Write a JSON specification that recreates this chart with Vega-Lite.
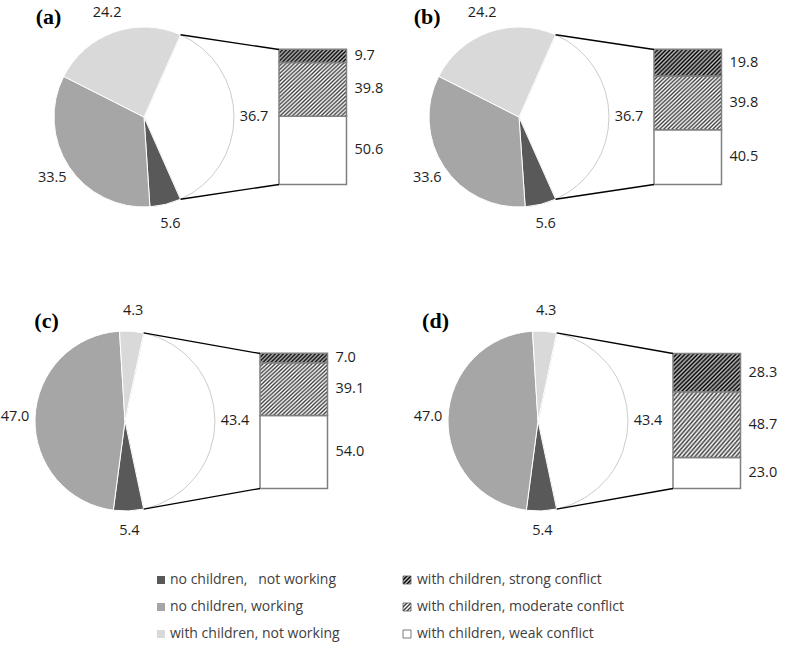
{
"$schema": "https://vega.github.io/schema/vega-lite/v6.json",
"padding": 0,
"background": "white",
"data": {"values": [
{"panel":"a","part":"pie","cat":"with children, working","value":36.7,"k":1},
{"panel":"a","part":"pie","cat":"no children,\u00a0\u00a0 not working","value":5.6,"k":2},
{"panel":"a","part":"pie","cat":"no children, working","value":33.5,"k":3},
{"panel":"a","part":"pie","cat":"with children, not working","value":24.2,"k":4},
{"panel":"a","part":"bar","cat":"with children, weak conflict","value":50.6,"k":1},
{"panel":"a","part":"bar","cat":"with children, moderate conflict","value":39.8,"k":2},
{"panel":"a","part":"bar","cat":"with children, strong conflict","value":9.7,"k":3},
{"panel":"b","part":"pie","cat":"with children, working","value":36.7,"k":1},
{"panel":"b","part":"pie","cat":"no children,\u00a0\u00a0 not working","value":5.6,"k":2},
{"panel":"b","part":"pie","cat":"no children, working","value":33.6,"k":3},
{"panel":"b","part":"pie","cat":"with children, not working","value":24.2,"k":4},
{"panel":"b","part":"bar","cat":"with children, weak conflict","value":40.5,"k":1},
{"panel":"b","part":"bar","cat":"with children, moderate conflict","value":39.8,"k":2},
{"panel":"b","part":"bar","cat":"with children, strong conflict","value":19.8,"k":3},
{"panel":"c","part":"pie","cat":"with children, working","value":43.4,"k":1},
{"panel":"c","part":"pie","cat":"no children,\u00a0\u00a0 not working","value":5.4,"k":2},
{"panel":"c","part":"pie","cat":"no children, working","value":47.0,"k":3},
{"panel":"c","part":"pie","cat":"with children, not working","value":4.3,"k":4},
{"panel":"c","part":"bar","cat":"with children, weak conflict","value":54.0,"k":1},
{"panel":"c","part":"bar","cat":"with children, moderate conflict","value":39.1,"k":2},
{"panel":"c","part":"bar","cat":"with children, strong conflict","value":7.0,"k":3},
{"panel":"d","part":"pie","cat":"with children, working","value":43.4,"k":1},
{"panel":"d","part":"pie","cat":"no children,\u00a0\u00a0 not working","value":5.4,"k":2},
{"panel":"d","part":"pie","cat":"no children, working","value":47.0,"k":3},
{"panel":"d","part":"pie","cat":"with children, not working","value":4.3,"k":4},
{"panel":"d","part":"bar","cat":"with children, weak conflict","value":23.0,"k":1},
{"panel":"d","part":"bar","cat":"with children, moderate conflict","value":48.7,"k":2},
{"panel":"d","part":"bar","cat":"with children, strong conflict","value":28.3,"k":3}
]},
"transform": [{"stack": "value", "groupby": ["panel", "part"], "sort": [{"field": "k", "order": "ascending"}], "as": ["s0", "s1"]}],
"spacing": 0,
"resolve": {"scale": {"theta": "independent"}},
"vconcat": [
{
"spacing": 53,
"resolve": {"scale": {"theta": "independent"}},
"vconcat": [
{
"spacing": 0,
"resolve": {"scale": {"theta": "independent"}},
"hconcat": [
{
"width": 394, "height": 250,
"transform": [{"filter": "datum.panel === 'a'"}],
"layer": [
{"transform": [{"filter": "datum.part === 'pie'"}],
 "mark": {"type": "arc", "outerRadius": 90, "strokeWidth": 1},
 "encoding": {
  "x": {"datum": 0, "type": "quantitative", "scale": {"domain": [-105.93, 185.93], "nice": false, "zero": false}},
  "y": {"datum": 50, "type": "quantitative", "scale": {"domain": [-48.52, 136.67], "nice": false, "zero": false}},
  "theta": {"field": "value", "type": "quantitative", "stack": true, "scale": {"range": [0.418, 6.7012], "nice": false, "zero": true}},
  "order": {"field": "k", "type": "quantitative"},
  "color": {"field": "cat", "type": "nominal", "legend": null, "scale": {"domain": ["with children, working", "no children,\u00a0\u00a0 not working", "no children, working", "with children, not working"], "range": ["#ffffff", "#595959", "#a6a6a6", "#d9d9d9"]}},
  "stroke": {"condition": {"test": "datum.k === 1", "value": "#cccccc"}, "value": "#ffffff"}
 }},
{"transform": [{"filter": "datum.part === 'pie'"}],
 "mark": {"type": "text", "radius": 110, "font": "Open Sans", "fontSize": 14.5, "fill": "#1e1e1e"},
 "encoding": {
  "x": {"datum": 0, "type": "quantitative"},
  "y": {"datum": 50, "type": "quantitative"},
  "theta": {"field": "value", "type": "quantitative", "stack": true, "scale": {"range": [0.418, 6.7012], "nice": false, "zero": true}},
  "order": {"field": "k", "type": "quantitative"},
  "text": {"field": "value", "type": "quantitative", "format": ".1f"}
 }},
{"transform": [{"filter": "datum.part === 'bar' && datum.k === 1"}],
 "mark": {"type": "rect", "fill": "#ffffff", "stroke": "#808080", "strokeWidth": 1.5},
 "encoding": {"x": {"datum": 100, "type": "quantitative"}, "x2": {"datum": 150}, "y": {"field": "s0", "type": "quantitative"}, "y2": {"field": "s1"}}},
{"transform": [{"filter": "datum.part === 'bar' && datum.k === 2"}],
 "mark": {"type": "rect", "stroke": "#808080", "strokeWidth": 1.5, "fill": {"gradient": "linear", "x1": 0, "y1": 0, "x2": 1.0802, "y2": 0.9042, "stops": [
{"offset":0,"color":"#404040"},{"offset":0.0165,"color":"#fff"},{"offset":0.033,"color":"#404040"},{"offset":0.0495,"color":"#fff"},{"offset":0.066,"color":"#404040"},{"offset":0.0825,"color":"#fff"},{"offset":0.099,"color":"#404040"},{"offset":0.1155,"color":"#fff"},{"offset":0.132,"color":"#404040"},{"offset":0.1485,"color":"#fff"},{"offset":0.165,"color":"#404040"},{"offset":0.1815,"color":"#fff"},{"offset":0.198,"color":"#404040"},{"offset":0.2145,"color":"#fff"},{"offset":0.231,"color":"#404040"},{"offset":0.2475,"color":"#fff"},{"offset":0.264,"color":"#404040"},{"offset":0.2805,"color":"#fff"},{"offset":0.297,"color":"#404040"},{"offset":0.3135,"color":"#fff"},{"offset":0.33,"color":"#404040"},{"offset":0.3465,"color":"#fff"},{"offset":0.363,"color":"#404040"},{"offset":0.3795,"color":"#fff"},{"offset":0.396,"color":"#404040"},{"offset":0.4125,"color":"#fff"},{"offset":0.429,"color":"#404040"},{"offset":0.4455,"color":"#fff"},{"offset":0.462,"color":"#404040"},{"offset":0.4785,"color":"#fff"},{"offset":0.495,"color":"#404040"},{"offset":0.5115,"color":"#fff"},{"offset":0.528,"color":"#404040"},{"offset":0.5445,"color":"#fff"},{"offset":0.561,"color":"#404040"},{"offset":0.5775,"color":"#fff"},{"offset":0.594,"color":"#404040"},{"offset":0.6105,"color":"#fff"},{"offset":0.627,"color":"#404040"},{"offset":0.6435,"color":"#fff"},{"offset":0.66,"color":"#404040"},{"offset":0.6765,"color":"#fff"},{"offset":0.693,"color":"#404040"},{"offset":0.7095,"color":"#fff"},{"offset":0.726,"color":"#404040"},{"offset":0.7425,"color":"#fff"},{"offset":0.759,"color":"#404040"},{"offset":0.7755,"color":"#fff"},{"offset":0.792,"color":"#404040"},{"offset":0.8085,"color":"#fff"},{"offset":0.825,"color":"#404040"},{"offset":0.8415,"color":"#fff"},{"offset":0.858,"color":"#404040"},{"offset":0.8745,"color":"#fff"},{"offset":0.891,"color":"#404040"},{"offset":0.9075,"color":"#fff"},{"offset":0.924,"color":"#404040"},{"offset":0.9405,"color":"#fff"},{"offset":0.957,"color":"#404040"},{"offset":0.9735,"color":"#fff"},{"offset":0.99,"color":"#404040"}]}},
 "encoding": {"x": {"datum": 100, "type": "quantitative"}, "x2": {"datum": 150}, "y": {"field": "s0", "type": "quantitative"}, "y2": {"field": "s1"}}},
{"transform": [{"filter": "datum.part === 'bar' && datum.k === 3"}],
 "mark": {"type": "rect", "stroke": "#808080", "strokeWidth": 1.5, "fill": {"gradient": "linear", "x1": 0, "y1": 0, "x2": 1.1507, "y2": 0.2233, "stops": [
{"offset":0,"color":"#000"},{"offset":0.025,"color":"#c0c0c0"},{"offset":0.05,"color":"#000"},{"offset":0.075,"color":"#c0c0c0"},{"offset":0.1,"color":"#000"},{"offset":0.125,"color":"#c0c0c0"},{"offset":0.15,"color":"#000"},{"offset":0.175,"color":"#c0c0c0"},{"offset":0.2,"color":"#000"},{"offset":0.225,"color":"#c0c0c0"},{"offset":0.25,"color":"#000"},{"offset":0.275,"color":"#c0c0c0"},{"offset":0.3,"color":"#000"},{"offset":0.325,"color":"#c0c0c0"},{"offset":0.35,"color":"#000"},{"offset":0.375,"color":"#c0c0c0"},{"offset":0.4,"color":"#000"},{"offset":0.425,"color":"#c0c0c0"},{"offset":0.45,"color":"#000"},{"offset":0.475,"color":"#c0c0c0"},{"offset":0.5,"color":"#000"},{"offset":0.525,"color":"#c0c0c0"},{"offset":0.55,"color":"#000"},{"offset":0.575,"color":"#c0c0c0"},{"offset":0.6,"color":"#000"},{"offset":0.625,"color":"#c0c0c0"},{"offset":0.65,"color":"#000"},{"offset":0.675,"color":"#c0c0c0"},{"offset":0.7,"color":"#000"},{"offset":0.725,"color":"#c0c0c0"},{"offset":0.75,"color":"#000"},{"offset":0.775,"color":"#c0c0c0"},{"offset":0.8,"color":"#000"},{"offset":0.825,"color":"#c0c0c0"},{"offset":0.85,"color":"#000"},{"offset":0.875,"color":"#c0c0c0"},{"offset":0.9,"color":"#000"},{"offset":0.925,"color":"#c0c0c0"},{"offset":0.95,"color":"#000"},{"offset":0.975,"color":"#c0c0c0"},{"offset":1,"color":"#000"}]}},
 "encoding": {"x": {"datum": 100, "type": "quantitative"}, "x2": {"datum": 150}, "y": {"field": "s0", "type": "quantitative"}, "y2": {"field": "s1"}}},
{"transform": [{"filter": "datum.part === 'bar'"}, {"fold": ["s0", "s1"], "as": ["edge", "pos"]}, {"aggregate": [{"op": "mean", "field": "pos", "as": "mid"}, {"op": "max", "field": "value", "as": "v"}], "groupby": ["cat"]}],
 "mark": {"type": "text", "align": "left", "dx": 8, "font": "Open Sans", "fontSize": 14.5, "fill": "#1e1e1e"},
 "encoding": {"x": {"datum": 150, "type": "quantitative"}, "y": {"field": "mid", "type": "quantitative"}, "text": {"field": "v", "type": "quantitative", "format": ".1f"}}},
{"data": {"values": [{}]}, "mark": {"type": "rule", "color": "#000000", "strokeWidth": 1.3},
 "encoding": {"x": {"datum": 27.05, "type": "quantitative"}, "y": {"datum": 110.93, "type": "quantitative"}, "x2": {"datum": 100}, "y2": {"datum": 100}}},
{"data": {"values": [{}]}, "mark": {"type": "rule", "color": "#000000", "strokeWidth": 1.3},
 "encoding": {"x": {"datum": 27.05, "type": "quantitative"}, "y": {"datum": -10.93, "type": "quantitative"}, "x2": {"datum": 100}, "y2": {"datum": 0}}},
{"data": {"values": [{}]}, "mark": {"type": "text", "font": "Liberation Serif", "fontWeight": "bold", "fontSize": 22, "fill": "#000000"},
 "encoding": {"x": {"datum": -70.7, "type": "quantitative"}, "y": {"datum": 124.1, "type": "quantitative"}, "text": {"value": "(a)"}}}
]
},
{
"width": 394, "height": 250,
"transform": [{"filter": "datum.panel === 'b'"}],
"layer": [
{"transform": [{"filter": "datum.part === 'pie'"}],
 "mark": {"type": "arc", "outerRadius": 90, "strokeWidth": 1},
 "encoding": {
  "x": {"datum": 0, "type": "quantitative", "scale": {"domain": [-91.85, 200], "nice": false, "zero": false}},
  "y": {"datum": 50, "type": "quantitative", "scale": {"domain": [-48.52, 136.67], "nice": false, "zero": false}},
  "theta": {"field": "value", "type": "quantitative", "stack": true, "scale": {"range": [0.418, 6.7012], "nice": false, "zero": true}},
  "order": {"field": "k", "type": "quantitative"},
  "color": {"field": "cat", "type": "nominal", "legend": null, "scale": {"domain": ["with children, working", "no children,\u00a0\u00a0 not working", "no children, working", "with children, not working"], "range": ["#ffffff", "#595959", "#a6a6a6", "#d9d9d9"]}},
  "stroke": {"condition": {"test": "datum.k === 1", "value": "#cccccc"}, "value": "#ffffff"}
 }},
{"transform": [{"filter": "datum.part === 'pie'"}],
 "mark": {"type": "text", "radius": 110, "font": "Open Sans", "fontSize": 14.5, "fill": "#1e1e1e"},
 "encoding": {
  "x": {"datum": 0, "type": "quantitative"},
  "y": {"datum": 50, "type": "quantitative"},
  "theta": {"field": "value", "type": "quantitative", "stack": true, "scale": {"range": [0.418, 6.7012], "nice": false, "zero": true}},
  "order": {"field": "k", "type": "quantitative"},
  "text": {"field": "value", "type": "quantitative", "format": ".1f"}
 }},
{"transform": [{"filter": "datum.part === 'bar' && datum.k === 1"}],
 "mark": {"type": "rect", "fill": "#ffffff", "stroke": "#808080", "strokeWidth": 1.5},
 "encoding": {"x": {"datum": 100, "type": "quantitative"}, "x2": {"datum": 150}, "y": {"field": "s0", "type": "quantitative"}, "y2": {"field": "s1"}}},
{"transform": [{"filter": "datum.part === 'bar' && datum.k === 2"}],
 "mark": {"type": "rect", "stroke": "#808080", "strokeWidth": 1.5, "fill": {"gradient": "linear", "x1": 0, "y1": 0, "x2": 1.0802, "y2": 0.9042, "stops": [
{"offset":0,"color":"#404040"},{"offset":0.0165,"color":"#fff"},{"offset":0.033,"color":"#404040"},{"offset":0.0495,"color":"#fff"},{"offset":0.066,"color":"#404040"},{"offset":0.0825,"color":"#fff"},{"offset":0.099,"color":"#404040"},{"offset":0.1155,"color":"#fff"},{"offset":0.132,"color":"#404040"},{"offset":0.1485,"color":"#fff"},{"offset":0.165,"color":"#404040"},{"offset":0.1815,"color":"#fff"},{"offset":0.198,"color":"#404040"},{"offset":0.2145,"color":"#fff"},{"offset":0.231,"color":"#404040"},{"offset":0.2475,"color":"#fff"},{"offset":0.264,"color":"#404040"},{"offset":0.2805,"color":"#fff"},{"offset":0.297,"color":"#404040"},{"offset":0.3135,"color":"#fff"},{"offset":0.33,"color":"#404040"},{"offset":0.3465,"color":"#fff"},{"offset":0.363,"color":"#404040"},{"offset":0.3795,"color":"#fff"},{"offset":0.396,"color":"#404040"},{"offset":0.4125,"color":"#fff"},{"offset":0.429,"color":"#404040"},{"offset":0.4455,"color":"#fff"},{"offset":0.462,"color":"#404040"},{"offset":0.4785,"color":"#fff"},{"offset":0.495,"color":"#404040"},{"offset":0.5115,"color":"#fff"},{"offset":0.528,"color":"#404040"},{"offset":0.5445,"color":"#fff"},{"offset":0.561,"color":"#404040"},{"offset":0.5775,"color":"#fff"},{"offset":0.594,"color":"#404040"},{"offset":0.6105,"color":"#fff"},{"offset":0.627,"color":"#404040"},{"offset":0.6435,"color":"#fff"},{"offset":0.66,"color":"#404040"},{"offset":0.6765,"color":"#fff"},{"offset":0.693,"color":"#404040"},{"offset":0.7095,"color":"#fff"},{"offset":0.726,"color":"#404040"},{"offset":0.7425,"color":"#fff"},{"offset":0.759,"color":"#404040"},{"offset":0.7755,"color":"#fff"},{"offset":0.792,"color":"#404040"},{"offset":0.8085,"color":"#fff"},{"offset":0.825,"color":"#404040"},{"offset":0.8415,"color":"#fff"},{"offset":0.858,"color":"#404040"},{"offset":0.8745,"color":"#fff"},{"offset":0.891,"color":"#404040"},{"offset":0.9075,"color":"#fff"},{"offset":0.924,"color":"#404040"},{"offset":0.9405,"color":"#fff"},{"offset":0.957,"color":"#404040"},{"offset":0.9735,"color":"#fff"},{"offset":0.99,"color":"#404040"}]}},
 "encoding": {"x": {"datum": 100, "type": "quantitative"}, "x2": {"datum": 150}, "y": {"field": "s0", "type": "quantitative"}, "y2": {"field": "s1"}}},
{"transform": [{"filter": "datum.part === 'bar' && datum.k === 3"}],
 "mark": {"type": "rect", "stroke": "#808080", "strokeWidth": 1.5, "fill": {"gradient": "linear", "x1": 0, "y1": 0, "x2": 1.2068, "y2": 0.4773, "stops": [
{"offset":0,"color":"#000"},{"offset":0.022,"color":"#c0c0c0"},{"offset":0.044,"color":"#000"},{"offset":0.066,"color":"#c0c0c0"},{"offset":0.088,"color":"#000"},{"offset":0.11,"color":"#c0c0c0"},{"offset":0.132,"color":"#000"},{"offset":0.154,"color":"#c0c0c0"},{"offset":0.176,"color":"#000"},{"offset":0.198,"color":"#c0c0c0"},{"offset":0.22,"color":"#000"},{"offset":0.242,"color":"#c0c0c0"},{"offset":0.264,"color":"#000"},{"offset":0.286,"color":"#c0c0c0"},{"offset":0.308,"color":"#000"},{"offset":0.33,"color":"#c0c0c0"},{"offset":0.352,"color":"#000"},{"offset":0.374,"color":"#c0c0c0"},{"offset":0.396,"color":"#000"},{"offset":0.418,"color":"#c0c0c0"},{"offset":0.44,"color":"#000"},{"offset":0.462,"color":"#c0c0c0"},{"offset":0.484,"color":"#000"},{"offset":0.506,"color":"#c0c0c0"},{"offset":0.528,"color":"#000"},{"offset":0.55,"color":"#c0c0c0"},{"offset":0.572,"color":"#000"},{"offset":0.594,"color":"#c0c0c0"},{"offset":0.616,"color":"#000"},{"offset":0.638,"color":"#c0c0c0"},{"offset":0.66,"color":"#000"},{"offset":0.682,"color":"#c0c0c0"},{"offset":0.704,"color":"#000"},{"offset":0.726,"color":"#c0c0c0"},{"offset":0.748,"color":"#000"},{"offset":0.77,"color":"#c0c0c0"},{"offset":0.792,"color":"#000"},{"offset":0.814,"color":"#c0c0c0"},{"offset":0.836,"color":"#000"},{"offset":0.858,"color":"#c0c0c0"},{"offset":0.88,"color":"#000"},{"offset":0.902,"color":"#c0c0c0"},{"offset":0.924,"color":"#000"},{"offset":0.946,"color":"#c0c0c0"},{"offset":0.968,"color":"#000"},{"offset":0.99,"color":"#c0c0c0"}]}},
 "encoding": {"x": {"datum": 100, "type": "quantitative"}, "x2": {"datum": 150}, "y": {"field": "s0", "type": "quantitative"}, "y2": {"field": "s1"}}},
{"transform": [{"filter": "datum.part === 'bar'"}, {"fold": ["s0", "s1"], "as": ["edge", "pos"]}, {"aggregate": [{"op": "mean", "field": "pos", "as": "mid"}, {"op": "max", "field": "value", "as": "v"}], "groupby": ["cat"]}],
 "mark": {"type": "text", "align": "left", "dx": 8, "font": "Open Sans", "fontSize": 14.5, "fill": "#1e1e1e"},
 "encoding": {"x": {"datum": 150, "type": "quantitative"}, "y": {"field": "mid", "type": "quantitative"}, "text": {"field": "v", "type": "quantitative", "format": ".1f"}}},
{"data": {"values": [{}]}, "mark": {"type": "rule", "color": "#000000", "strokeWidth": 1.3},
 "encoding": {"x": {"datum": 27.05, "type": "quantitative"}, "y": {"datum": 110.93, "type": "quantitative"}, "x2": {"datum": 100}, "y2": {"datum": 100}}},
{"data": {"values": [{}]}, "mark": {"type": "rule", "color": "#000000", "strokeWidth": 1.3},
 "encoding": {"x": {"datum": 27.05, "type": "quantitative"}, "y": {"datum": -10.93, "type": "quantitative"}, "x2": {"datum": 100}, "y2": {"datum": 0}}},
{"data": {"values": [{}]}, "mark": {"type": "text", "font": "Liberation Serif", "fontWeight": "bold", "fontSize": 22, "fill": "#000000"},
 "encoding": {"x": {"datum": -68.1, "type": "quantitative"}, "y": {"datum": 124.1, "type": "quantitative"}, "text": {"value": "(b)"}}}
]
}
]
},
{
"spacing": 0,
"resolve": {"scale": {"theta": "independent"}},
"hconcat": [
{
"width": 394, "height": 250,
"transform": [{"filter": "datum.panel === 'c'"}],
"layer": [
{"transform": [{"filter": "datum.part === 'pie'"}],
 "mark": {"type": "arc", "outerRadius": 90, "strokeWidth": 1},
 "encoding": {
  "x": {"datum": 0, "type": "quantitative", "scale": {"domain": [-91.85, 200], "nice": false, "zero": false}},
  "y": {"datum": 50, "type": "quantitative", "scale": {"domain": [-48.52, 136.67], "nice": false, "zero": false}},
  "theta": {"field": "value", "type": "quantitative", "stack": true, "scale": {"range": [0.2087, 6.4919], "nice": false, "zero": true}},
  "order": {"field": "k", "type": "quantitative"},
  "color": {"field": "cat", "type": "nominal", "legend": null, "scale": {"domain": ["with children, working", "no children,\u00a0\u00a0 not working", "no children, working", "with children, not working"], "range": ["#ffffff", "#595959", "#a6a6a6", "#d9d9d9"]}},
  "stroke": {"condition": {"test": "datum.k === 1", "value": "#cccccc"}, "value": "#ffffff"}
 }},
{"transform": [{"filter": "datum.part === 'pie'"}],
 "mark": {"type": "text", "radius": 110, "font": "Open Sans", "fontSize": 14.5, "fill": "#1e1e1e"},
 "encoding": {
  "x": {"datum": 0, "type": "quantitative"},
  "y": {"datum": 50, "type": "quantitative"},
  "theta": {"field": "value", "type": "quantitative", "stack": true, "scale": {"range": [0.2087, 6.4919], "nice": false, "zero": true}},
  "order": {"field": "k", "type": "quantitative"},
  "text": {"field": "value", "type": "quantitative", "format": ".1f"}
 }},
{"transform": [{"filter": "datum.part === 'bar' && datum.k === 1"}],
 "mark": {"type": "rect", "fill": "#ffffff", "stroke": "#808080", "strokeWidth": 1.5},
 "encoding": {"x": {"datum": 100, "type": "quantitative"}, "x2": {"datum": 150}, "y": {"field": "s0", "type": "quantitative"}, "y2": {"field": "s1"}}},
{"transform": [{"filter": "datum.part === 'bar' && datum.k === 2"}],
 "mark": {"type": "rect", "stroke": "#808080", "strokeWidth": 1.5, "fill": {"gradient": "linear", "x1": 0, "y1": 0, "x2": 1.0802, "y2": 0.9042, "stops": [
{"offset":0,"color":"#404040"},{"offset":0.0165,"color":"#fff"},{"offset":0.033,"color":"#404040"},{"offset":0.0495,"color":"#fff"},{"offset":0.066,"color":"#404040"},{"offset":0.0825,"color":"#fff"},{"offset":0.099,"color":"#404040"},{"offset":0.1155,"color":"#fff"},{"offset":0.132,"color":"#404040"},{"offset":0.1485,"color":"#fff"},{"offset":0.165,"color":"#404040"},{"offset":0.1815,"color":"#fff"},{"offset":0.198,"color":"#404040"},{"offset":0.2145,"color":"#fff"},{"offset":0.231,"color":"#404040"},{"offset":0.2475,"color":"#fff"},{"offset":0.264,"color":"#404040"},{"offset":0.2805,"color":"#fff"},{"offset":0.297,"color":"#404040"},{"offset":0.3135,"color":"#fff"},{"offset":0.33,"color":"#404040"},{"offset":0.3465,"color":"#fff"},{"offset":0.363,"color":"#404040"},{"offset":0.3795,"color":"#fff"},{"offset":0.396,"color":"#404040"},{"offset":0.4125,"color":"#fff"},{"offset":0.429,"color":"#404040"},{"offset":0.4455,"color":"#fff"},{"offset":0.462,"color":"#404040"},{"offset":0.4785,"color":"#fff"},{"offset":0.495,"color":"#404040"},{"offset":0.5115,"color":"#fff"},{"offset":0.528,"color":"#404040"},{"offset":0.5445,"color":"#fff"},{"offset":0.561,"color":"#404040"},{"offset":0.5775,"color":"#fff"},{"offset":0.594,"color":"#404040"},{"offset":0.6105,"color":"#fff"},{"offset":0.627,"color":"#404040"},{"offset":0.6435,"color":"#fff"},{"offset":0.66,"color":"#404040"},{"offset":0.6765,"color":"#fff"},{"offset":0.693,"color":"#404040"},{"offset":0.7095,"color":"#fff"},{"offset":0.726,"color":"#404040"},{"offset":0.7425,"color":"#fff"},{"offset":0.759,"color":"#404040"},{"offset":0.7755,"color":"#fff"},{"offset":0.792,"color":"#404040"},{"offset":0.8085,"color":"#fff"},{"offset":0.825,"color":"#404040"},{"offset":0.8415,"color":"#fff"},{"offset":0.858,"color":"#404040"},{"offset":0.8745,"color":"#fff"},{"offset":0.891,"color":"#404040"},{"offset":0.9075,"color":"#fff"},{"offset":0.924,"color":"#404040"},{"offset":0.9405,"color":"#fff"},{"offset":0.957,"color":"#404040"},{"offset":0.9735,"color":"#fff"},{"offset":0.99,"color":"#404040"}]}},
 "encoding": {"x": {"datum": 100, "type": "quantitative"}, "x2": {"datum": 150}, "y": {"field": "s0", "type": "quantitative"}, "y2": {"field": "s1"}}},
{"transform": [{"filter": "datum.part === 'bar' && datum.k === 3"}],
 "mark": {"type": "rect", "stroke": "#808080", "strokeWidth": 1.5, "fill": {"gradient": "linear", "x1": 0, "y1": 0, "x2": 1.1181, "y2": 0.1565, "stops": [
{"offset":0,"color":"#000"},{"offset":0.026,"color":"#c0c0c0"},{"offset":0.052,"color":"#000"},{"offset":0.078,"color":"#c0c0c0"},{"offset":0.104,"color":"#000"},{"offset":0.13,"color":"#c0c0c0"},{"offset":0.156,"color":"#000"},{"offset":0.182,"color":"#c0c0c0"},{"offset":0.208,"color":"#000"},{"offset":0.234,"color":"#c0c0c0"},{"offset":0.26,"color":"#000"},{"offset":0.286,"color":"#c0c0c0"},{"offset":0.312,"color":"#000"},{"offset":0.338,"color":"#c0c0c0"},{"offset":0.364,"color":"#000"},{"offset":0.39,"color":"#c0c0c0"},{"offset":0.416,"color":"#000"},{"offset":0.442,"color":"#c0c0c0"},{"offset":0.468,"color":"#000"},{"offset":0.494,"color":"#c0c0c0"},{"offset":0.52,"color":"#000"},{"offset":0.546,"color":"#c0c0c0"},{"offset":0.572,"color":"#000"},{"offset":0.598,"color":"#c0c0c0"},{"offset":0.624,"color":"#000"},{"offset":0.65,"color":"#c0c0c0"},{"offset":0.676,"color":"#000"},{"offset":0.702,"color":"#c0c0c0"},{"offset":0.728,"color":"#000"},{"offset":0.754,"color":"#c0c0c0"},{"offset":0.78,"color":"#000"},{"offset":0.806,"color":"#c0c0c0"},{"offset":0.832,"color":"#000"},{"offset":0.858,"color":"#c0c0c0"},{"offset":0.884,"color":"#000"},{"offset":0.91,"color":"#c0c0c0"},{"offset":0.936,"color":"#000"},{"offset":0.962,"color":"#c0c0c0"},{"offset":0.988,"color":"#000"}]}},
 "encoding": {"x": {"datum": 100, "type": "quantitative"}, "x2": {"datum": 150}, "y": {"field": "s0", "type": "quantitative"}, "y2": {"field": "s1"}}},
{"transform": [{"filter": "datum.part === 'bar'"}, {"fold": ["s0", "s1"], "as": ["edge", "pos"]}, {"aggregate": [{"op": "mean", "field": "pos", "as": "mid"}, {"op": "max", "field": "value", "as": "v"}], "groupby": ["cat"]}],
 "mark": {"type": "text", "align": "left", "dx": 8, "font": "Open Sans", "fontSize": 14.5, "fill": "#1e1e1e"},
 "encoding": {"x": {"datum": 150, "type": "quantitative"}, "y": {"field": "mid", "type": "quantitative"}, "text": {"field": "v", "type": "quantitative", "format": ".1f"}}},
{"data": {"values": [{}]}, "mark": {"type": "rule", "color": "#000000", "strokeWidth": 1.3},
 "encoding": {"x": {"datum": 13.81, "type": "quantitative"}, "y": {"datum": 115.22, "type": "quantitative"}, "x2": {"datum": 100}, "y2": {"datum": 100}}},
{"data": {"values": [{}]}, "mark": {"type": "rule", "color": "#000000", "strokeWidth": 1.3},
 "encoding": {"x": {"datum": 13.81, "type": "quantitative"}, "y": {"datum": -15.22, "type": "quantitative"}, "x2": {"datum": 100}, "y2": {"datum": 0}}},
{"data": {"values": [{}]}, "mark": {"type": "text", "font": "Liberation Serif", "fontWeight": "bold", "fontSize": 22, "fill": "#000000"},
 "encoding": {"x": {"datum": -58.1, "type": "quantitative"}, "y": {"datum": 124.1, "type": "quantitative"}, "text": {"value": "(c)"}}}
]
},
{
"width": 394, "height": 250,
"transform": [{"filter": "datum.panel === 'd'"}],
"layer": [
{"transform": [{"filter": "datum.part === 'pie'"}],
 "mark": {"type": "arc", "outerRadius": 90, "strokeWidth": 1},
 "encoding": {
  "x": {"datum": 0, "type": "quantitative", "scale": {"domain": [-105.93, 185.93], "nice": false, "zero": false}},
  "y": {"datum": 50, "type": "quantitative", "scale": {"domain": [-48.52, 136.67], "nice": false, "zero": false}},
  "theta": {"field": "value", "type": "quantitative", "stack": true, "scale": {"range": [0.2087, 6.4919], "nice": false, "zero": true}},
  "order": {"field": "k", "type": "quantitative"},
  "color": {"field": "cat", "type": "nominal", "legend": null, "scale": {"domain": ["with children, working", "no children,\u00a0\u00a0 not working", "no children, working", "with children, not working"], "range": ["#ffffff", "#595959", "#a6a6a6", "#d9d9d9"]}},
  "stroke": {"condition": {"test": "datum.k === 1", "value": "#cccccc"}, "value": "#ffffff"}
 }},
{"transform": [{"filter": "datum.part === 'pie'"}],
 "mark": {"type": "text", "radius": 110, "font": "Open Sans", "fontSize": 14.5, "fill": "#1e1e1e"},
 "encoding": {
  "x": {"datum": 0, "type": "quantitative"},
  "y": {"datum": 50, "type": "quantitative"},
  "theta": {"field": "value", "type": "quantitative", "stack": true, "scale": {"range": [0.2087, 6.4919], "nice": false, "zero": true}},
  "order": {"field": "k", "type": "quantitative"},
  "text": {"field": "value", "type": "quantitative", "format": ".1f"}
 }},
{"transform": [{"filter": "datum.part === 'bar' && datum.k === 1"}],
 "mark": {"type": "rect", "fill": "#ffffff", "stroke": "#808080", "strokeWidth": 1.5},
 "encoding": {"x": {"datum": 100, "type": "quantitative"}, "x2": {"datum": 150}, "y": {"field": "s0", "type": "quantitative"}, "y2": {"field": "s1"}}},
{"transform": [{"filter": "datum.part === 'bar' && datum.k === 2"}],
 "mark": {"type": "rect", "stroke": "#808080", "strokeWidth": 1.5, "fill": {"gradient": "linear", "x1": 0, "y1": 0, "x2": 1.0802, "y2": 0.9042, "stops": [
{"offset":0,"color":"#404040"},{"offset":0.0165,"color":"#fff"},{"offset":0.033,"color":"#404040"},{"offset":0.0495,"color":"#fff"},{"offset":0.066,"color":"#404040"},{"offset":0.0825,"color":"#fff"},{"offset":0.099,"color":"#404040"},{"offset":0.1155,"color":"#fff"},{"offset":0.132,"color":"#404040"},{"offset":0.1485,"color":"#fff"},{"offset":0.165,"color":"#404040"},{"offset":0.1815,"color":"#fff"},{"offset":0.198,"color":"#404040"},{"offset":0.2145,"color":"#fff"},{"offset":0.231,"color":"#404040"},{"offset":0.2475,"color":"#fff"},{"offset":0.264,"color":"#404040"},{"offset":0.2805,"color":"#fff"},{"offset":0.297,"color":"#404040"},{"offset":0.3135,"color":"#fff"},{"offset":0.33,"color":"#404040"},{"offset":0.3465,"color":"#fff"},{"offset":0.363,"color":"#404040"},{"offset":0.3795,"color":"#fff"},{"offset":0.396,"color":"#404040"},{"offset":0.4125,"color":"#fff"},{"offset":0.429,"color":"#404040"},{"offset":0.4455,"color":"#fff"},{"offset":0.462,"color":"#404040"},{"offset":0.4785,"color":"#fff"},{"offset":0.495,"color":"#404040"},{"offset":0.5115,"color":"#fff"},{"offset":0.528,"color":"#404040"},{"offset":0.5445,"color":"#fff"},{"offset":0.561,"color":"#404040"},{"offset":0.5775,"color":"#fff"},{"offset":0.594,"color":"#404040"},{"offset":0.6105,"color":"#fff"},{"offset":0.627,"color":"#404040"},{"offset":0.6435,"color":"#fff"},{"offset":0.66,"color":"#404040"},{"offset":0.6765,"color":"#fff"},{"offset":0.693,"color":"#404040"},{"offset":0.7095,"color":"#fff"},{"offset":0.726,"color":"#404040"},{"offset":0.7425,"color":"#fff"},{"offset":0.759,"color":"#404040"},{"offset":0.7755,"color":"#fff"},{"offset":0.792,"color":"#404040"},{"offset":0.8085,"color":"#fff"},{"offset":0.825,"color":"#404040"},{"offset":0.8415,"color":"#fff"},{"offset":0.858,"color":"#404040"},{"offset":0.8745,"color":"#fff"},{"offset":0.891,"color":"#404040"},{"offset":0.9075,"color":"#fff"},{"offset":0.924,"color":"#404040"},{"offset":0.9405,"color":"#fff"},{"offset":0.957,"color":"#404040"},{"offset":0.9735,"color":"#fff"},{"offset":0.99,"color":"#404040"}]}},
 "encoding": {"x": {"datum": 100, "type": "quantitative"}, "x2": {"datum": 150}, "y": {"field": "s0", "type": "quantitative"}, "y2": {"field": "s1"}}},
{"transform": [{"filter": "datum.part === 'bar' && datum.k === 3"}],
 "mark": {"type": "rect", "stroke": "#808080", "strokeWidth": 1.5, "fill": {"gradient": "linear", "x1": 0, "y1": 0, "x2": 1.1861, "y2": 0.6712, "stops": [
{"offset":0,"color":"#000"},{"offset":0.02,"color":"#c0c0c0"},{"offset":0.04,"color":"#000"},{"offset":0.06,"color":"#c0c0c0"},{"offset":0.08,"color":"#000"},{"offset":0.1,"color":"#c0c0c0"},{"offset":0.12,"color":"#000"},{"offset":0.14,"color":"#c0c0c0"},{"offset":0.16,"color":"#000"},{"offset":0.18,"color":"#c0c0c0"},{"offset":0.2,"color":"#000"},{"offset":0.22,"color":"#c0c0c0"},{"offset":0.24,"color":"#000"},{"offset":0.26,"color":"#c0c0c0"},{"offset":0.28,"color":"#000"},{"offset":0.3,"color":"#c0c0c0"},{"offset":0.32,"color":"#000"},{"offset":0.34,"color":"#c0c0c0"},{"offset":0.36,"color":"#000"},{"offset":0.38,"color":"#c0c0c0"},{"offset":0.4,"color":"#000"},{"offset":0.42,"color":"#c0c0c0"},{"offset":0.44,"color":"#000"},{"offset":0.46,"color":"#c0c0c0"},{"offset":0.48,"color":"#000"},{"offset":0.5,"color":"#c0c0c0"},{"offset":0.52,"color":"#000"},{"offset":0.54,"color":"#c0c0c0"},{"offset":0.56,"color":"#000"},{"offset":0.58,"color":"#c0c0c0"},{"offset":0.6,"color":"#000"},{"offset":0.62,"color":"#c0c0c0"},{"offset":0.64,"color":"#000"},{"offset":0.66,"color":"#c0c0c0"},{"offset":0.68,"color":"#000"},{"offset":0.7,"color":"#c0c0c0"},{"offset":0.72,"color":"#000"},{"offset":0.74,"color":"#c0c0c0"},{"offset":0.76,"color":"#000"},{"offset":0.78,"color":"#c0c0c0"},{"offset":0.8,"color":"#000"},{"offset":0.82,"color":"#c0c0c0"},{"offset":0.84,"color":"#000"},{"offset":0.86,"color":"#c0c0c0"},{"offset":0.88,"color":"#000"},{"offset":0.9,"color":"#c0c0c0"},{"offset":0.92,"color":"#000"},{"offset":0.94,"color":"#c0c0c0"},{"offset":0.96,"color":"#000"},{"offset":0.98,"color":"#c0c0c0"},{"offset":1,"color":"#000"}]}},
 "encoding": {"x": {"datum": 100, "type": "quantitative"}, "x2": {"datum": 150}, "y": {"field": "s0", "type": "quantitative"}, "y2": {"field": "s1"}}},
{"transform": [{"filter": "datum.part === 'bar'"}, {"fold": ["s0", "s1"], "as": ["edge", "pos"]}, {"aggregate": [{"op": "mean", "field": "pos", "as": "mid"}, {"op": "max", "field": "value", "as": "v"}], "groupby": ["cat"]}],
 "mark": {"type": "text", "align": "left", "dx": 8, "font": "Open Sans", "fontSize": 14.5, "fill": "#1e1e1e"},
 "encoding": {"x": {"datum": 150, "type": "quantitative"}, "y": {"field": "mid", "type": "quantitative"}, "text": {"field": "v", "type": "quantitative", "format": ".1f"}}},
{"data": {"values": [{}]}, "mark": {"type": "rule", "color": "#000000", "strokeWidth": 1.3},
 "encoding": {"x": {"datum": 13.81, "type": "quantitative"}, "y": {"datum": 115.22, "type": "quantitative"}, "x2": {"datum": 100}, "y2": {"datum": 100}}},
{"data": {"values": [{}]}, "mark": {"type": "rule", "color": "#000000", "strokeWidth": 1.3},
 "encoding": {"x": {"datum": 13.81, "type": "quantitative"}, "y": {"datum": -15.22, "type": "quantitative"}, "x2": {"datum": 100}, "y2": {"datum": 0}}},
{"data": {"values": [{}]}, "mark": {"type": "text", "font": "Liberation Serif", "fontWeight": "bold", "fontSize": 22, "fill": "#000000"},
 "encoding": {"x": {"datum": -75.9, "type": "quantitative"}, "y": {"datum": 124.1, "type": "quantitative"}, "text": {"value": "(d)"}}}
]
}
]
}
]
},
{
"width": 788, "height": 97,
"transform": [{"filter": "datum.panel === 'a' && !(datum.part === 'pie' && datum.k === 1)"}],
"resolve": {"scale": {"y": "independent"}},
"layer": [
{"transform": [{"filter": "datum.part === 'pie'"}],
 "encoding": {
  "x": {"field": "part", "type": "nominal", "scale": {"type": "point", "domain": ["pie", "bar"], "range": [160, 406], "padding": 0}},
  "y": {"field": "cat", "type": "nominal", "scale": {"type": "point", "domain": ["no children,\u00a0\u00a0 not working", "no children, working", "with children, not working"], "range": [26, 80], "padding": 0}}
 },
 "layer": [
  {"mark": {"type": "square", "size": 64, "opacity": 1},
   "encoding": {"color": {"field": "cat", "type": "nominal", "legend": null, "scale": {"domain": ["with children, working", "no children,\u00a0\u00a0 not working", "no children, working", "with children, not working"], "range": ["#ffffff", "#595959", "#a6a6a6", "#d9d9d9"]}}}},
  {"mark": {"type": "text", "align": "left", "dx": 9, "font": "Open Sans", "fontSize": 14, "fill": "#404040"},
   "encoding": {"text": {"field": "cat", "type": "nominal"}}}
 ]},
{"transform": [{"filter": "datum.part === 'bar'"}],
 "encoding": {
  "x": {"field": "part", "type": "nominal", "scale": {"type": "point", "domain": ["pie", "bar"], "range": [160, 406], "padding": 0}},
  "y": {"field": "cat", "type": "nominal", "scale": {"type": "point", "domain": ["with children, strong conflict", "with children, moderate conflict", "with children, weak conflict"], "range": [26, 80], "padding": 0}}
 },
 "layer": [
  {"mark": {"type": "square", "size": 64, "opacity": 1, "stroke": "#595959", "strokeWidth": 0.8},
   "encoding": {"fill": {"condition": [
     {"test": "datum.k === 3", "value": {"gradient": "linear", "x1": 0, "y1": 0, "x2": 1, "y2": 1, "stops": [{"offset":0,"color":"#000"},{"offset":0.125,"color":"#c0c0c0"},{"offset":0.25,"color":"#000"},{"offset":0.375,"color":"#c0c0c0"},{"offset":0.5,"color":"#000"},{"offset":0.625,"color":"#c0c0c0"},{"offset":0.75,"color":"#000"},{"offset":0.875,"color":"#c0c0c0"},{"offset":1,"color":"#000"}]}},
     {"test": "datum.k === 2", "value": {"gradient": "linear", "x1": 0, "y1": 0, "x2": 1, "y2": 1, "stops": [{"offset":0,"color":"#404040"},{"offset":0.125,"color":"#fff"},{"offset":0.25,"color":"#404040"},{"offset":0.375,"color":"#fff"},{"offset":0.5,"color":"#404040"},{"offset":0.625,"color":"#fff"},{"offset":0.75,"color":"#404040"},{"offset":0.875,"color":"#fff"},{"offset":1,"color":"#404040"}]}}
    ], "value": "#ffffff"}}},
  {"mark": {"type": "text", "align": "left", "dx": 10, "font": "Open Sans", "fontSize": 14, "fill": "#404040"},
   "encoding": {"text": {"field": "cat", "type": "nominal"}}}
 ]}
]
}
],
"config": {
 "view": {"stroke": null},
 "axis": {"disable": true}
}
}
